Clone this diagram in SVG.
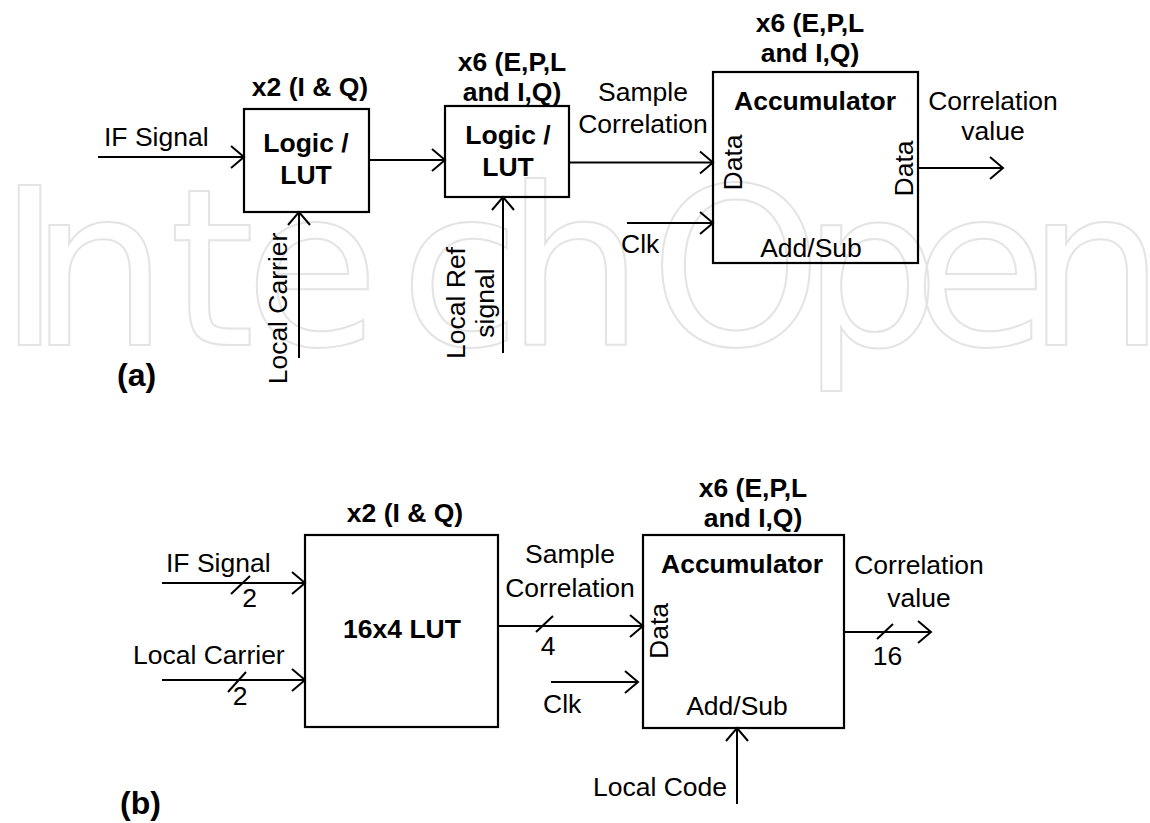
<svg xmlns="http://www.w3.org/2000/svg" width="1150" height="823" viewBox="0 0 1150 823">
<style>
text{font-family:"Liberation Sans",Arial,sans-serif;font-size:26.5px;fill:#000}
.b{font-weight:bold}
.m{text-anchor:middle}
.e{text-anchor:end}
.box{fill:none;stroke:#000;stroke-width:2.2}
.ln{fill:none;stroke:#000;stroke-width:2}
.wm{font-family:"DejaVu Sans",sans-serif;font-size:219px;fill:none;stroke:#e4e4e4;stroke-width:2;text-anchor:middle}
</style>
<defs>
<marker id="ah" markerUnits="userSpaceOnUse" markerWidth="30" markerHeight="30" viewBox="-15 -15 30 30" refX="0" refY="0" orient="auto" overflow="visible">
<path d="M-13,-11 L0,0 L-13,11" fill="none" stroke="#000" stroke-width="2"/>
</marker>
</defs>
<rect width="1150" height="823" fill="#fff"/>
<text class="wm" x="29.5 99 212 312 460 575 736 871 980 1096" y="345">IntechOpen</text>

<!-- (a) -->
<g id="a-lut1">
<text class="b m" x="310" y="96">x2 (I &amp; Q)</text>
<rect class="box" x="244" y="109" width="125" height="103"/>
<text class="b m" x="306" y="152">Logic /</text>
<text class="b m" x="306" y="184">LUT</text>
</g>
<g id="a-lut2">
<text class="b m" x="512" y="71">x6 (E,P,L</text>
<text class="b m" x="512" y="101">and I,Q)</text>
<rect class="box" x="445" y="106" width="124" height="91"/>
<text class="b m" x="508" y="144">Logic /</text>
<text class="b m" x="508" y="176">LUT</text>
</g>
<g id="a-acc">
<text class="b m" x="810" y="32">x6 (E,P,L</text>
<text class="b m" x="810" y="62">and I,Q)</text>
<rect class="box" x="713" y="72" width="205" height="191"/>
<text class="b m" x="815" y="110">Accumulator</text>
<text class="m" transform="translate(742,162.5) rotate(-90)">Data</text>
<text class="m" transform="translate(913,168.5) rotate(-90)">Data</text>
<text class="m" x="811" y="257">Add/Sub</text>
</g>
<g id="a-labels">
<text x="104" y="146">IF Signal</text>
<text class="m" x="643" y="101">Sample</text>
<text class="m" x="643" y="133">Correlation</text>
<text x="621" y="253">Clk</text>
<text class="m" x="993" y="110">Correlation</text>
<text class="m" x="993" y="140">value</text>
<text class="m" transform="translate(287,308.5) rotate(-90)">Local Carrier</text>
<text class="m" transform="translate(465,303) rotate(-90)">Local Ref</text>
<text class="m" transform="translate(494,303) rotate(-90)">signal</text>
<text class="b" x="117" y="386" style="font-size:32px">(a)</text>
</g>

<!-- (b) -->
<g id="b-lut">
<text class="b m" x="405" y="522">x2 (I &amp; Q)</text>
<rect class="box" x="305" y="535" width="193" height="192"/>
<text class="b m" x="402" y="638">16x4 LUT</text>
</g>
<g id="b-acc">
<text class="b m" x="753" y="497">x6 (E,P,L</text>
<text class="b m" x="753" y="527">and I,Q)</text>
<rect class="box" x="643" y="535" width="201" height="193"/>
<text class="b m" x="742" y="573">Accumulator</text>
<text class="m" transform="translate(668,631) rotate(-90)">Data</text>
<text class="m" x="737" y="715">Add/Sub</text>
</g>
<g id="b-labels">
<text x="166" y="572">IF Signal</text>
<text class="m" x="249.5" y="607">2</text>
<text x="133" y="664">Local Carrier</text>
<text class="m" x="240" y="705">2</text>
<text class="m" x="570" y="563">Sample</text>
<text class="m" x="570" y="597">Correlation</text>
<text class="m" x="548" y="655">4</text>
<text x="543" y="713">Clk</text>
<text class="m" x="919" y="574">Correlation</text>
<text class="m" x="919" y="607">value</text>
<text class="m" x="887.5" y="665">16</text>
<text class="e" x="727" y="796">Local Code</text>
<text class="b" x="120" y="814" style="font-size:32px">(b)</text>
</g>

<g id="connectors">
<path class="ln" d="M98,157 H244" marker-end="url(#ah)"/>
<path class="ln" d="M369,160 H445" marker-end="url(#ah)"/>
<path class="ln" d="M569,162.5 H713" marker-end="url(#ah)"/>
<path class="ln" d="M627,223 H713" marker-end="url(#ah)"/>
<path class="ln" d="M918,168 H1003" marker-end="url(#ah)"/>
<path class="ln" d="M299,358 V212" marker-end="url(#ah)"/>
<path class="ln" d="M503,353 V197" marker-end="url(#ah)"/>

<path class="ln" d="M162,583 H305" marker-end="url(#ah)"/>
<path class="ln" d="M231,594 L250,576"/>
<path class="ln" d="M162,680 H305" marker-end="url(#ah)"/>
<path class="ln" d="M228,692 L246,672"/>
<path class="ln" d="M498,626 H643" marker-end="url(#ah)"/>
<path class="ln" d="M536,632 L553,616"/>
<path class="ln" d="M551,682 H638" marker-end="url(#ah)"/>
<path class="ln" d="M844,632 H931" marker-end="url(#ah)"/>
<path class="ln" d="M877,639 L893,624"/>
<path class="ln" d="M737,804 V728" marker-end="url(#ah)"/>
</g>
</svg>
